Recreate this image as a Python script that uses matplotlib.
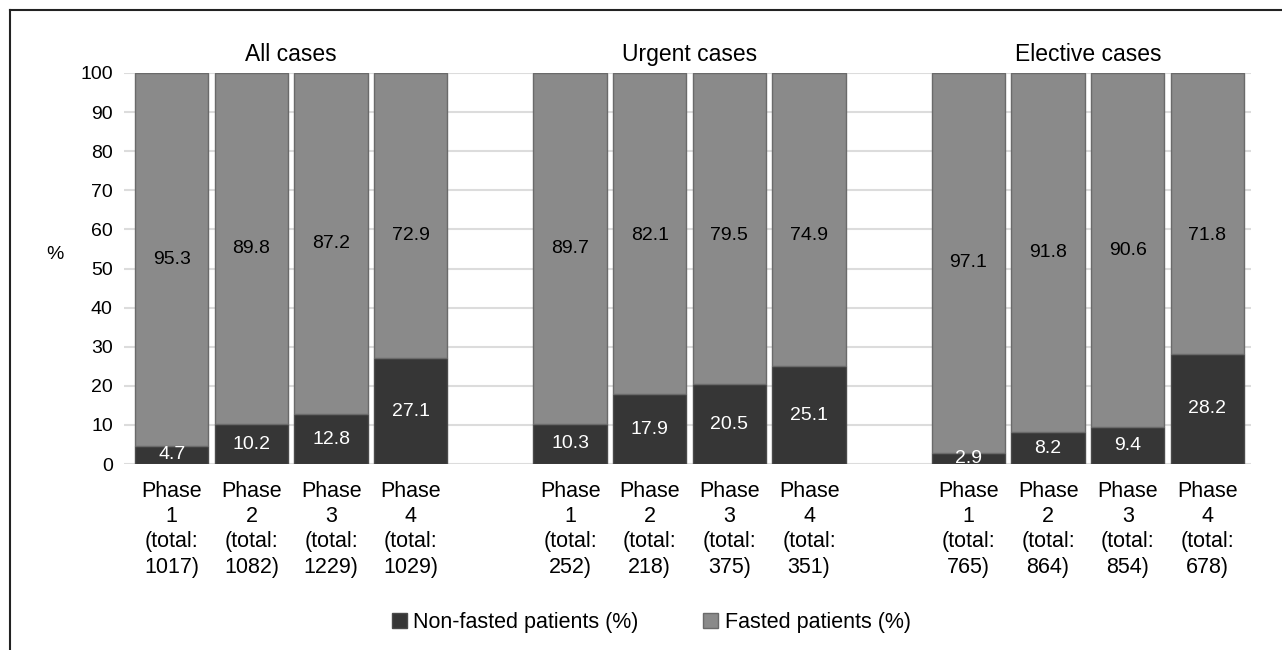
import matplotlib.pyplot as plt
import numpy as np
from matplotlib.lines import Line2D
from matplotlib.patches import Patch

plt.rcParams['font.family'] = ['Liberation Sans', 'DejaVu Sans']

groups = ["All cases", "Urgent cases", "Elective cases"]
phases = ["Phase\n1", "Phase\n2", "Phase\n3", "Phase\n4"]
totals = [1017, 1082, 1229, 1029,
          252, 218, 375, 351,
          765, 864, 854, 678]
non_fasted = [4.7, 10.2, 12.8, 27.1,
              10.3, 17.9, 20.5, 25.1,
              2.9, 8.2, 9.4, 28.2]
fasted = [95.3, 89.8, 87.2, 72.9,
          89.7, 82.1, 79.5, 74.9,
          97.1, 91.8, 90.6, 71.8]

DARK = '#363636'
GREY = '#8a8a8a'

fig = plt.figure(figsize=(12.82, 6.5), dpi=100)
ax = fig.add_axes([0.0967, 0.286, 0.8793, 0.6017])

# four bars per group, one empty slot between groups
x = np.array([g * 5 + i for g in range(len(groups)) for i in range(len(phases))])
ax.bar(x, non_fasted, width=0.92, color=DARK, edgecolor='#4a4a4a', linewidth=1, zorder=3)
ax.bar(x, fasted, width=0.92, bottom=non_fasted, color=GREY, edgecolor='#6a6a6a',
       linewidth=1, zorder=3)

for xi, nf, f in zip(x, non_fasted, fasted):
    ax.text(xi, nf / 2, f"{nf}", ha='center', va='center', color='white', fontsize=14, zorder=4)
    ax.text(xi, min(nf + f / 2, 58.5), f"{f}", ha='center', va='center', color='black',
            fontsize=14, zorder=4)

labels = [f"{phases[i % 4]}\n(total:\n{t})" for i, t in enumerate(totals)]
ax.set_xticks(x)
ax.set_xticklabels(labels, fontsize=15.5, linespacing=1.27)
ax.set_xlim(-0.6, 13.55)
ax.set_ylim(0, 100)
ax.set_yticks(np.arange(0, 101, 10))
ax.tick_params(axis='y', length=0, pad=8, labelsize=14)
ax.tick_params(axis='x', length=0, pad=12)
ax.grid(axis='y', color='#dcdcdc', linewidth=1.5, zorder=0)
for s in ax.spines.values():
    s.set_visible(False)

for g, name in enumerate(groups):
    ax.text(g * 5 + 1.5, 1.047, name, transform=ax.get_xaxis_transform(),
            ha='center', va='center', fontsize=16.5)

ax.text(-0.061, 0.537, "%", transform=ax.transAxes, ha='center', va='center', fontsize=14)

handles = [Patch(facecolor=DARK, edgecolor='#4a4a4a', label="Non-fasted patients (%)"),
           Patch(facecolor=GREY, edgecolor='#6a6a6a', label="Fasted patients (%)")]
fig.legend(handles=handles, loc='center', bbox_to_anchor=(0.508, 0.042), ncol=2,
           frameon=False, fontsize=15.5, handlelength=0.7, handleheight=0.7,
           handletextpad=0.3, columnspacing=3.0)

# outer frame (top and left edges only)
fig.add_artist(Line2D([10 / 1282, 1], [1 - 10 / 650, 1 - 10 / 650], color='#222222', linewidth=1.5))
fig.add_artist(Line2D([10 / 1282, 10 / 1282], [0, 1 - 10 / 650], color='#222222', linewidth=1.5))

fig.savefig('out.png', dpi=100)
